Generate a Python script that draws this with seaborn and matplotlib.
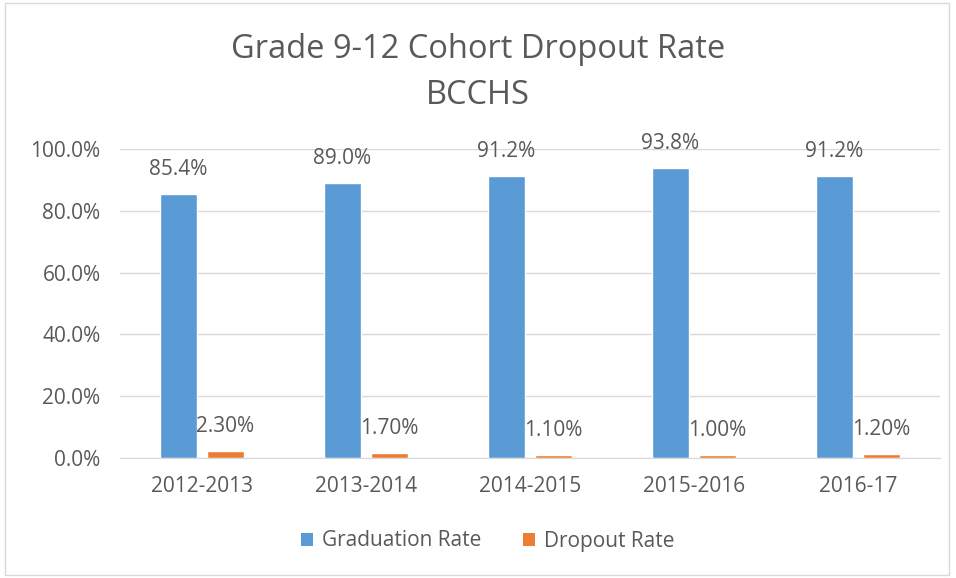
import pandas as pd
import matplotlib.pyplot as plt
import seaborn as sns
from matplotlib.patches import Rectangle, Patch

# data
years = ['2012-2013', '2013-2014', '2014-2015', '2015-2016', '2016-17']
graduation = [0.854, 0.890, 0.912, 0.938, 0.912]
dropout = [0.023, 0.017, 0.011, 0.010, 0.012]
grad_labels = ['85.4%', '89.0%', '91.2%', '93.8%', '91.2%']
drop_labels = ['2.30%', '1.70%', '1.10%', '1.00%', '1.20%']
series = ['Graduation Rate', 'Dropout Rate']
colors = ['#5B9BD5', '#ED7D31']

df = pd.DataFrame({
    'Year': years * 2,
    'Rate': graduation + dropout,
    'Series': [series[0]] * len(years) + [series[1]] * len(years),
})

sns.set_style('white')
plt.rcParams['font.family'] = ['Open Sans', 'DejaVu Sans']
txt = '#595959'

fig = plt.figure(figsize=(9.56, 5.78), dpi=100)
ax = fig.add_axes([120 / 956, 1 - 458 / 578, 820 / 956, 309 / 578])

sns.barplot(data=df, x='Year', y='Rate', hue='Series', palette=colors,
            width=0.572, gap=0.21, saturation=1, ax=ax, legend=False)

ax.bar_label(ax.containers[0], labels=grad_labels, padding=10, fontsize=15, color=txt)
ax.bar_label(ax.containers[1], labels=drop_labels, padding=10, fontsize=15, color=txt)

ax.set_ylim(0, 1.0)
ax.set_xlim(-0.5, 4.5)
ax.set_yticks([0, 0.2, 0.4, 0.6, 0.8, 1.0])
ax.set_yticklabels(['0.0%', '20.0%', '40.0%', '60.0%', '80.0%', '100.0%'])
ax.yaxis.grid(True, color='#D9D9D9', linewidth=1)
ax.set_axisbelow(True)
for s in ['top', 'right', 'left']:
    ax.spines[s].set_visible(False)
ax.spines['bottom'].set_color('#D9D9D9')
ax.tick_params(axis='y', length=0, pad=14, labelsize=15, labelcolor=txt)
ax.tick_params(axis='x', length=0, pad=13, labelsize=15, labelcolor=txt)
ax.set_xlabel('')
ax.set_ylabel('')

fig.text(0.5, 1 - 50 / 578, 'Grade 9-12 Cohort Dropout Rate', ha='center', va='center',
         fontsize=23.5, color=txt)
fig.text(0.5, 1 - 95 / 578, 'BCCHS', ha='center', va='center', fontsize=23.5, color=txt)

handles = [Patch(facecolor=c, edgecolor='none') for c in colors]
fig.legend(handles, series, loc='center', bbox_to_anchor=(0.51, 1 - 541 / 578), ncol=2,
           frameon=False, fontsize=15, labelcolor=txt, handlelength=0.6, handleheight=0.6,
           handletextpad=0.4, columnspacing=2.0)

# light chart border
fig.patches.append(Rectangle((5 / 956, 3 / 578), 944 / 956, 572 / 578, transform=fig.transFigure,
                             fill=False, edgecolor='#D9D9D9', linewidth=1))

fig.savefig('out.png', dpi=100)
